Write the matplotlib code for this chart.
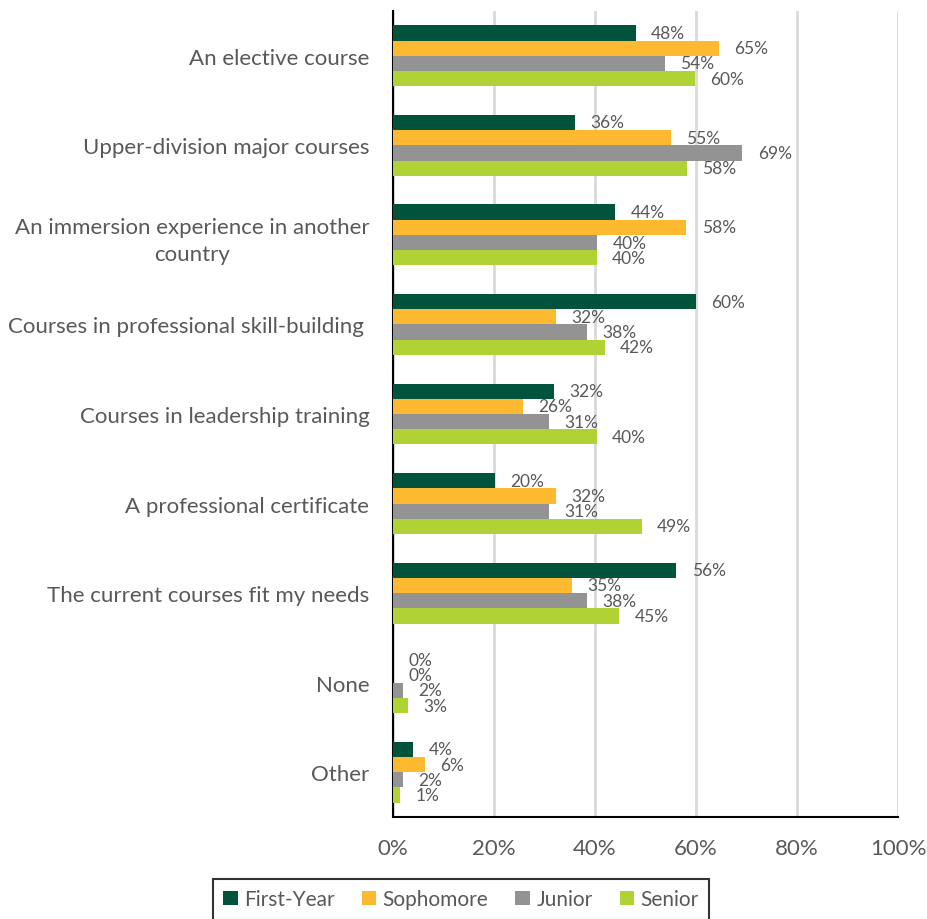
import matplotlib
matplotlib.use("Agg")
import matplotlib.pyplot as plt
import numpy as np

categories = [
    "An elective course",
    "Upper-division major courses",
    "An immersion experience in another\ncountry",
    "Courses in professional skill-building ",
    "Courses in leadership training",
    "A professional certificate",
    "The current courses fit my needs",
    "None",
    "Other",
]
series_names = ["First-Year", "Sophomore", "Junior", "Senior"]
first_year = [48.1, 36.0, 44.0, 60.0, 31.9, 20.1, 56.1, 0.0, 4.0]
sophomore = [64.6, 55.0, 58.1, 32.2, 25.8, 32.2, 35.4, 0.0, 6.4]
junior = [53.9, 69.2, 40.4, 38.5, 30.8, 30.8, 38.5, 1.9, 1.9]
senior = [59.8, 58.2, 40.3, 41.9, 40.3, 49.3, 44.8, 3.0, 1.4]
colors = ["#02533C", "#FDB92F", "#939393", "#B0D235"]
xticks = [0, 20, 40, 60, 80, 100]
xtick_labels = ["0%", "20%", "40%", "60%", "80%", "100%"]

plt.rcParams["font.family"] = ["Lato", "DejaVu Sans"]
text_color = "#595959"

fig = plt.figure(figsize=(9.28, 9.20), dpi=100)
ax = fig.add_axes([393 / 928, 1 - 818 / 920, (898 - 393) / 928, (818 - 12) / 920])

n = len(categories)
y = np.arange(n)
bar_h = 0.17
all_series = [first_year, sophomore, junior, senior]
for i, (vals, name, col) in enumerate(zip(all_series, series_names, colors)):
    pos = y + (i - 1.5) * bar_h
    ax.barh(pos, vals, height=bar_h, color=col, label=name, zorder=3)
    for p, v in zip(pos, vals):
        ax.annotate(f"{round(v):d}%", xy=(v, p), xytext=(11, 0),
                    textcoords="offset points", va="center", ha="left",
                    fontsize=12.5, color=text_color)

ax.set_xlim(0, 100)
ax.set_ylim(n - 0.5, -0.5)
ax.set_yticks(y)
ax.set_yticklabels(categories, fontsize=16, color=text_color,
                   multialignment="center", linespacing=1.45)
ax.set_xticks(xticks)
ax.set_xticklabels(xtick_labels, fontsize=16, color=text_color)
ax.tick_params(axis="y", length=0, pad=17)
ax.tick_params(axis="x", length=0, pad=15)
ax.xaxis.grid(True, color="#D9D9D9", linewidth=2, zorder=0)
ax.set_axisbelow(True)
for s in ["top", "right"]:
    ax.spines[s].set_visible(False)
ax.spines["left"].set_color("black")
ax.spines["left"].set_linewidth(1.5)
ax.spines["bottom"].set_color("black")
ax.spines["bottom"].set_linewidth(1.5)

leg = fig.legend(loc="upper center", bbox_to_anchor=(461 / 928, 1 - 880 / 920),
                 ncol=4, frameon=True, fancybox=False, fontsize=15,
                 handlelength=0.7, handleheight=0.7, handletextpad=0.3,
                 columnspacing=1.3, borderpad=0.5, borderaxespad=0)
leg.get_frame().set_edgecolor("black")
leg.get_frame().set_linewidth(1.5)
for t in leg.get_texts():
    t.set_color(text_color)

fig.savefig("out.png", dpi=100)
